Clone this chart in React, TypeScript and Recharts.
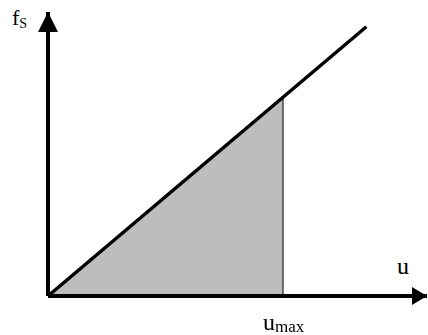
import { ComposedChart, Line, Area, XAxis, YAxis, ReferenceLine, ReferenceDot } from "recharts";

// x and y in arbitrary units, axis domain 0..100
const U_DOMAIN = [0, 100];
const FS_DOMAIN = [0, 100];

const LINE_POINTS = [
  { u: 0, fs: 0 },
  { u: 84, fs: 94.8 },
];

const U_MAX = 62;
const AREA_POINTS = [
  { u: 0, fs: 0 },
  { u: U_MAX, fs: 70 },
];

const serif = "'Liberation Serif', 'Times New Roman', serif";

const ArrowRight = (props: any) => {
  const { cx, cy } = props;
  return <polygon points={`${cx},${cy} ${cx - 15},${cy - 9} ${cx - 15},${cy + 9}`} fill="#000" />;
};

const ArrowUp = (props: any) => {
  const { cx, cy } = props;
  return <polygon points={`${cx},${cy} ${cx - 10},${cy + 20} ${cx + 10},${cy + 20}`} fill="#000" />;
};

const App = () => {
  return (
    <div style={{ position: "fixed", left: 0, top: 0, width: 428, height: 335, background: "#fff" }}>
      <ComposedChart
        width={428}
        height={335}
        margin={{ top: 12, right: 1, bottom: 39, left: 48 }}
      >
        <XAxis type="number" dataKey="u" domain={U_DOMAIN} hide />
        <YAxis type="number" dataKey="fs" domain={FS_DOMAIN} hide />
        <Area
          data={AREA_POINTS}
          dataKey="fs"
          type="linear"
          stroke="none"
          fill="#bdbdbd"
          fillOpacity={1}
          isAnimationActive={false}
        />
        <ReferenceLine
          segment={[
            { x: U_MAX, y: 0 },
            { x: U_MAX, y: AREA_POINTS[1].fs },
          ]}
          stroke="#444"
          strokeWidth={1.5}
        />
        <Line
          data={LINE_POINTS}
          dataKey="fs"
          type="linear"
          stroke="#000"
          strokeWidth={3.5}
          dot={false}
          isAnimationActive={false}
        />
        <ReferenceLine y={0} stroke="#000" strokeWidth={4} />
        <ReferenceLine x={0} stroke="#000" strokeWidth={4} />
        <ReferenceDot x={U_DOMAIN[1]} y={0} shape={ArrowRight} ifOverflow="visible" />
        <ReferenceDot x={0} y={FS_DOMAIN[1]} shape={ArrowUp} ifOverflow="visible" />
      </ComposedChart>
      <div style={{ position: "absolute", left: 12, top: 5, fontFamily: serif, fontSize: 22, lineHeight: "26px" }}>
        f<sub style={{ fontSize: 14, verticalAlign: "-3px" }}>S</sub>
      </div>
      <div style={{ position: "absolute", left: 397, top: 252, fontFamily: serif, fontSize: 24, lineHeight: "28px" }}>
        u
      </div>
      <div style={{ position: "absolute", left: 263, top: 308, fontFamily: serif, fontSize: 24, lineHeight: "28px" }}>
        u<sub style={{ fontSize: 17, verticalAlign: "-2px" }}>max</sub>
      </div>
    </div>
  );
};

export default App;
